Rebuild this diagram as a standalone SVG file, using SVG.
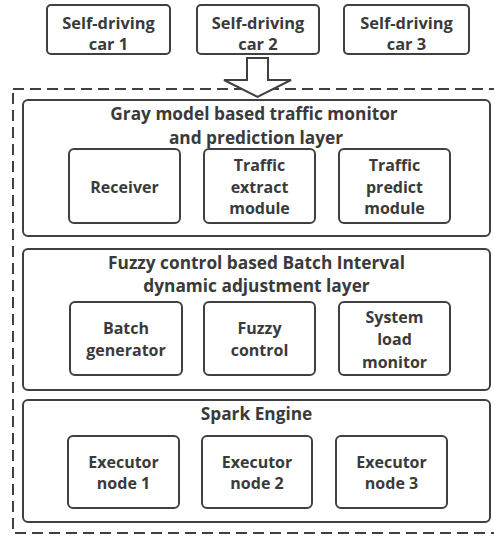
<svg xmlns="http://www.w3.org/2000/svg" width="494" height="537" viewBox="0 0 494 537">
<style>
.box{fill:#fff;stroke:#404040;stroke-width:2}
.t{font-family:"Open Sans","Liberation Sans",sans-serif;font-weight:bold;font-size:16px;fill:#3a3a3a;text-anchor:middle;dominant-baseline:central}
.h{font-size:17.3px}
.c{font-size:16.4px}
.dash{fill:none;stroke:#404040;stroke-width:2;stroke-dasharray:11 6}
</style>
<rect width="494" height="537" fill="#fff"/>
<rect class="dash" x="13" y="89" width="490" height="444"/>
<g id="car1"><rect class="box" x="47" y="5" width="123" height="49" rx="4"/><text class="t c" x="108.5" y="22">Self-driving</text><text class="t c" x="108.5" y="43">car 1</text></g>
<g id="car2"><rect class="box" x="197" y="5" width="122" height="49" rx="4"/><text class="t c" x="258" y="22">Self-driving</text><text class="t c" x="258" y="43">car 2</text></g>
<g id="car3"><rect class="box" x="344" y="5" width="125" height="49" rx="4"/><text class="t c" x="406.5" y="22">Self-driving</text><text class="t c" x="406.5" y="43">car 3</text></g>
<g id="connectors"><polygon points="247,58 268,58 268,80 291,80 257.5,97 224,80 247,80" fill="#fff" stroke="#404040" stroke-width="2" stroke-linejoin="miter"/></g>
<g id="layer1"><rect class="box" x="23" y="100" width="467" height="136" rx="5"/><text class="t h" x="254" y="113">Gray model based traffic monitor</text><text class="t h" x="256" y="137">and prediction layer</text></g>
<g id="receiver"><rect class="box" x="69" y="149" width="111" height="74" rx="5"/><text class="t" x="124.5" y="187">Receiver</text></g>
<g id="extract"><rect class="box" x="204" y="149" width="111" height="74" rx="5"/><text class="t" x="259.5" y="165">Traffic</text><text class="t" x="259.5" y="187">extract</text><text class="t" x="259.5" y="208">module</text></g>
<g id="predict"><rect class="box" x="339" y="149" width="111" height="74" rx="5"/><text class="t" x="394.5" y="165">Traffic</text><text class="t" x="394.5" y="187">predict</text><text class="t" x="394.5" y="208">module</text></g>
<g id="layer2"><rect class="box" x="23" y="249" width="467" height="141" rx="5"/><text class="t h" x="256.5" y="262">Fuzzy control based Batch Interval</text><text class="t h" x="256.5" y="285">dynamic adjustment layer</text></g>
<g id="batch"><rect class="box" x="70" y="302" width="112" height="73" rx="5"/><text class="t" x="126" y="328">Batch</text><text class="t" x="126" y="350">generator</text></g>
<g id="fuzzy"><rect class="box" x="204" y="302" width="111" height="73" rx="5"/><text class="t" x="259.5" y="328">Fuzzy</text><text class="t" x="259.5" y="350">control</text></g>
<g id="sysload"><rect class="box" x="339" y="302" width="111" height="73" rx="5"/><text class="t" x="394.5" y="317">System</text><text class="t" x="394.5" y="339">load</text><text class="t" x="394.5" y="362">monitor</text></g>
<g id="layer3"><rect class="box" x="23" y="400" width="467" height="122" rx="5"/><text class="t h" x="256.5" y="413">Spark Engine</text></g>
<g id="exec1"><rect class="box" x="68" y="436" width="111" height="72" rx="5"/><text class="t" x="123.5" y="462">Executor</text><text class="t" x="123.5" y="483">node 1</text></g>
<g id="exec2"><rect class="box" x="202" y="436" width="110" height="72" rx="5"/><text class="t" x="257" y="462">Executor</text><text class="t" x="257" y="483">node 2</text></g>
<g id="exec3"><rect class="box" x="336" y="436" width="111" height="72" rx="5"/><text class="t" x="391.5" y="462">Executor</text><text class="t" x="391.5" y="483">node 3</text></g>
</svg>
